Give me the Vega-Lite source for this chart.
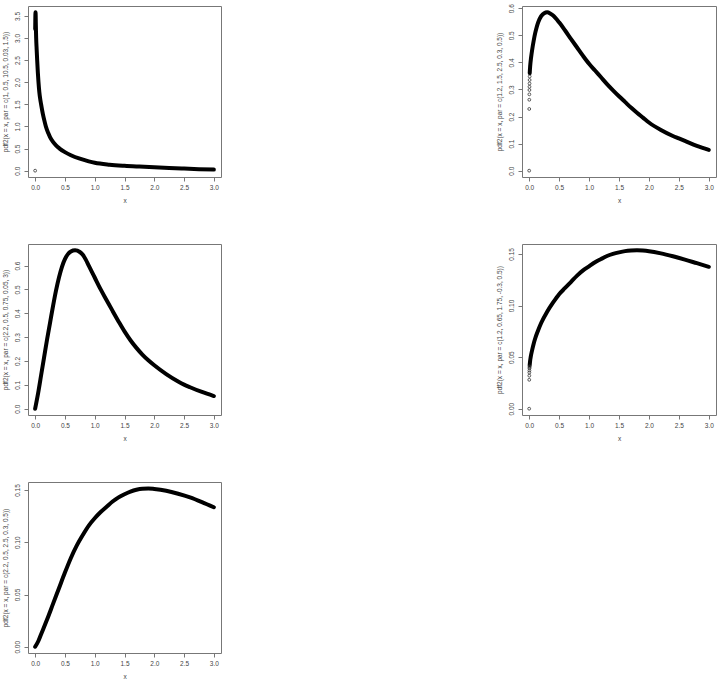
{
  "$schema": "https://vega.github.io/schema/vega-lite/v6.json",
  "padding": {"left": 2, "top": 3, "right": 0, "bottom": 0},
  "background": "white",
  "config": {
    "view": {"stroke": "#777", "strokeWidth": 1},
    "axis": {"domain": false, "grid": false, "tickColor": "#777", "tickSize": 4, "labelFont": "Liberation Sans", "labelFontSize": 6.5, "labelColor": "#444", "titleFont": "Liberation Sans", "titleFontSize": 6.5, "titleColor": "#444", "titleFontWeight": "normal", "labelFlush": false, "labelOverlap": false},
    "axisY": {"labelAngle": -90, "labelAlign": "center", "labelBaseline": "bottom", "labelPadding": 3.5, "titlePadding": 6},
    "axisX": {"labelPadding": 3, "titlePadding": 7},
    "line": {"color": "black", "strokeWidth": 4, "strokeJoin": "round", "strokeCap": "round", "interpolate": "monotone"},
    "point": {"shape": "circle", "filled": false, "color": "#333", "size": 8, "strokeWidth": 0.8, "opacity": 1}
  },
  "datasets": {
    "p1": [{"x":0.001,"y":3.2},{"x":0.003,"y":3.45},{"x":0.006,"y":3.58},{"x":0.008,"y":3.55},{"x":0.011,"y":3.35},{"x":0.014,"y":3.15},{"x":0.017,"y":3.0},{"x":0.025,"y":2.75},{"x":0.034,"y":2.5},{"x":0.045,"y":2.22},{"x":0.056,"y":2.0},{"x":0.07,"y":1.78},{"x":0.085,"y":1.62},{"x":0.1,"y":1.5},{"x":0.13,"y":1.28},{"x":0.15,"y":1.16},{"x":0.18,"y":1.0},{"x":0.22,"y":0.85},{"x":0.25,"y":0.76},{"x":0.3,"y":0.65},{"x":0.35,"y":0.57},{"x":0.41,"y":0.5},{"x":0.5,"y":0.42},{"x":0.6,"y":0.35},{"x":0.75,"y":0.27},{"x":0.9,"y":0.21},{"x":1.0,"y":0.178},{"x":1.25,"y":0.135},{"x":1.5,"y":0.11},{"x":1.75,"y":0.092},{"x":2.0,"y":0.076},{"x":2.25,"y":0.06},{"x":2.5,"y":0.047},{"x":2.75,"y":0.035},{"x":3.0,"y":0.024}],
    "q1": [{"x":0,"y":0}],
    "p2": [{"x":0.009,"y":0.36},{"x":0.012,"y":0.372},{"x":0.015,"y":0.382},{"x":0.02,"y":0.395},{"x":0.03,"y":0.415},{"x":0.04,"y":0.432},{"x":0.05,"y":0.447},{"x":0.075,"y":0.48},{"x":0.1,"y":0.508},{"x":0.125,"y":0.53},{"x":0.15,"y":0.548},{"x":0.2,"y":0.571},{"x":0.25,"y":0.582},{"x":0.3,"y":0.585},{"x":0.35,"y":0.581},{"x":0.4,"y":0.573},{"x":0.5,"y":0.548},{"x":0.6,"y":0.518},{"x":0.7,"y":0.486},{"x":0.8,"y":0.455},{"x":0.9,"y":0.424},{"x":1.0,"y":0.395},{"x":1.1,"y":0.37},{"x":1.2,"y":0.345},{"x":1.3,"y":0.32},{"x":1.4,"y":0.297},{"x":1.5,"y":0.275},{"x":1.6,"y":0.254},{"x":1.7,"y":0.233},{"x":1.8,"y":0.214},{"x":1.9,"y":0.196},{"x":2.0,"y":0.178},{"x":2.2,"y":0.15},{"x":2.4,"y":0.128},{"x":2.5,"y":0.119},{"x":2.6,"y":0.11},{"x":2.8,"y":0.092},{"x":3.0,"y":0.077}],
    "q2": [{"x":0,"y":0},{"x":0.001,"y":0.228},{"x":0.002,"y":0.262},{"x":0.003,"y":0.282},{"x":0.004,"y":0.298},{"x":0.005,"y":0.31},{"x":0.006,"y":0.322},{"x":0.007,"y":0.335},{"x":0.008,"y":0.348}],
    "p3": [{"x":0,"y":0},{"x":0.05,"y":0.065},{"x":0.1,"y":0.14},{"x":0.15,"y":0.215},{"x":0.2,"y":0.29},{"x":0.25,"y":0.36},{"x":0.3,"y":0.43},{"x":0.35,"y":0.495},{"x":0.4,"y":0.55},{"x":0.45,"y":0.595},{"x":0.5,"y":0.627},{"x":0.55,"y":0.648},{"x":0.6,"y":0.659},{"x":0.67,"y":0.664},{"x":0.75,"y":0.657},{"x":0.8,"y":0.645},{"x":0.85,"y":0.625},{"x":0.9,"y":0.6},{"x":0.95,"y":0.575},{"x":1.0,"y":0.55},{"x":1.1,"y":0.5},{"x":1.2,"y":0.455},{"x":1.3,"y":0.41},{"x":1.4,"y":0.366},{"x":1.5,"y":0.324},{"x":1.6,"y":0.287},{"x":1.7,"y":0.255},{"x":1.8,"y":0.227},{"x":1.9,"y":0.203},{"x":2.0,"y":0.182},{"x":2.2,"y":0.145},{"x":2.4,"y":0.114},{"x":2.5,"y":0.101},{"x":2.6,"y":0.09},{"x":2.8,"y":0.07},{"x":3.0,"y":0.053}],
    "p4": [{"x":0.008,"y":0.042},{"x":0.015,"y":0.046},{"x":0.025,"y":0.05},{"x":0.05,"y":0.057},{"x":0.075,"y":0.063},{"x":0.1,"y":0.068},{"x":0.15,"y":0.076},{"x":0.2,"y":0.083},{"x":0.3,"y":0.094},{"x":0.4,"y":0.103},{"x":0.5,"y":0.111},{"x":0.6,"y":0.117},{"x":0.7,"y":0.123},{"x":0.8,"y":0.129},{"x":0.9,"y":0.134},{"x":1.0,"y":0.138},{"x":1.1,"y":0.142},{"x":1.2,"y":0.145},{"x":1.3,"y":0.148},{"x":1.4,"y":0.15},{"x":1.5,"y":0.1515},{"x":1.6,"y":0.1527},{"x":1.7,"y":0.1533},{"x":1.8,"y":0.1535},{"x":1.9,"y":0.1532},{"x":2.0,"y":0.1526},{"x":2.2,"y":0.1505},{"x":2.4,"y":0.1477},{"x":2.6,"y":0.1445},{"x":2.8,"y":0.141},{"x":3.0,"y":0.1375}],
    "q4": [{"x":0,"y":0},{"x":0.001,"y":0.028},{"x":0.002,"y":0.032},{"x":0.003,"y":0.035},{"x":0.004,"y":0.037},{"x":0.005,"y":0.039},{"x":0.006,"y":0.04},{"x":0.007,"y":0.041}],
    "p5": [{"x":0,"y":0},{"x":0.05,"y":0.005},{"x":0.1,"y":0.012},{"x":0.2,"y":0.026},{"x":0.3,"y":0.041},{"x":0.4,"y":0.056},{"x":0.5,"y":0.071},{"x":0.6,"y":0.085},{"x":0.7,"y":0.097},{"x":0.8,"y":0.107},{"x":0.9,"y":0.116},{"x":1.0,"y":0.123},{"x":1.1,"y":0.129},{"x":1.2,"y":0.134},{"x":1.3,"y":0.139},{"x":1.4,"y":0.143},{"x":1.5,"y":0.146},{"x":1.6,"y":0.1485},{"x":1.7,"y":0.1503},{"x":1.8,"y":0.1513},{"x":1.9,"y":0.1515},{"x":2.0,"y":0.151},{"x":2.2,"y":0.1493},{"x":2.4,"y":0.1465},{"x":2.6,"y":0.143},{"x":2.8,"y":0.1385},{"x":3.0,"y":0.1335}]
  },
  "columns": 2,
  "spacing": {"row": 38, "column": 274},
  "concat": [
    {
      "width": 193, "height": 171,
      "encoding": {
        "x": {"field": "x", "type": "quantitative", "scale": {"domain": [-0.12, 3.12], "nice": false, "zero": false}, "axis": {"values": [0,0.5,1,1.5,2,2.5,3], "format": ".1f", "title": "x"}},
        "y": {"field": "y", "type": "quantitative", "scale": {"domain": [-0.143, 3.723], "nice": false, "zero": false}, "axis": {"values": [0,0.5,1,1.5,2,2.5,3,3.5], "format": ".1f", "title": "pdf2(x = x, par = c(1, 0.5, 10.5, 0.03, 1.5))"}}
      },
      "layer": [
        {"data": {"name": "p1"}, "mark": {"type": "line"}},
        {"data": {"name": "q1"}, "mark": {"type": "point"}}
      ]
    },
    {
      "width": 194, "height": 171,
      "encoding": {
        "x": {"field": "x", "type": "quantitative", "scale": {"domain": [-0.12, 3.12], "nice": false, "zero": false}, "axis": {"values": [0,0.5,1,1.5,2,2.5,3], "format": ".1f", "title": "x"}},
        "y": {"field": "y", "type": "quantitative", "scale": {"domain": [-0.0234, 0.6084], "nice": false, "zero": false}, "axis": {"values": [0,0.1,0.2,0.3,0.4,0.5,0.6], "format": ".1f", "title": "pdf2(x = x, par = c(1.2, 1.5, 2.5, 0.3, 0.5))"}}
      },
      "layer": [
        {"data": {"name": "p2"}, "mark": {"type": "line"}},
        {"data": {"name": "q2"}, "mark": {"type": "point"}}
      ]
    },
    {
      "width": 193, "height": 171,
      "encoding": {
        "x": {"field": "x", "type": "quantitative", "scale": {"domain": [-0.12, 3.12], "nice": false, "zero": false}, "axis": {"values": [0,0.5,1,1.5,2,2.5,3], "format": ".1f", "title": "x"}},
        "y": {"field": "y", "type": "quantitative", "scale": {"domain": [-0.0265, 0.6905], "nice": false, "zero": false}, "axis": {"values": [0,0.1,0.2,0.3,0.4,0.5,0.6], "format": ".1f", "title": "pdf2(x = x, par = c(2.2, 0.5, 0.75, 0.05, 3))"}}
      },
      "layer": [
        {"data": {"name": "p3"}, "mark": {"type": "line"}}
      ]
    },
    {
      "width": 194, "height": 171,
      "encoding": {
        "x": {"field": "x", "type": "quantitative", "scale": {"domain": [-0.12, 3.12], "nice": false, "zero": false}, "axis": {"values": [0,0.5,1,1.5,2,2.5,3], "format": ".1f", "title": "x"}},
        "y": {"field": "y", "type": "quantitative", "scale": {"domain": [-0.0061, 0.1596], "nice": false, "zero": false}, "axis": {"values": [0,0.05,0.1,0.15], "format": ".2f", "title": "pdf2(x = x, par = c(1.2, 0.65, 1.75, -0.3, 0.5))"}}
      },
      "layer": [
        {"data": {"name": "p4"}, "mark": {"type": "line"}},
        {"data": {"name": "q4"}, "mark": {"type": "point"}}
      ]
    },
    {
      "width": 193, "height": 171,
      "encoding": {
        "x": {"field": "x", "type": "quantitative", "scale": {"domain": [-0.12, 3.12], "nice": false, "zero": false}, "axis": {"values": [0,0.5,1,1.5,2,2.5,3], "format": ".1f", "title": "x"}},
        "y": {"field": "y", "type": "quantitative", "scale": {"domain": [-0.006, 0.1577], "nice": false, "zero": false}, "axis": {"values": [0,0.05,0.1,0.15], "format": ".2f", "title": "pdf2(x = x, par = c(2.2, 0.5, 2.5, 0.3, 0.5))"}}
      },
      "layer": [
        {"data": {"name": "p5"}, "mark": {"type": "line"}}
      ]
    }
  ]
}
